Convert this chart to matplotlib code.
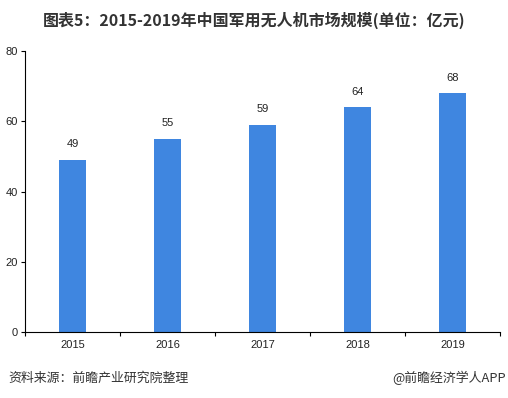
import matplotlib
matplotlib.use('Agg')
import matplotlib.pyplot as plt

plt.rcParams['font.family'] = ['Noto Sans CJK SC', 'DejaVu Sans']

years = ['2015', '2016', '2017', '2018', '2019']
values = [49, 55, 59, 64, 68]

fig = plt.figure(figsize=(5.08, 3.98), dpi=100)
ax = fig.add_axes([25 / 508, 1 - 332 / 398, 475 / 508, 281 / 398])

x = range(len(years))
ax.bar(x, values, width=0.285, color='#3f86e0')
for i, v in zip(x, values):
    ax.text(i, v + 3, str(v), ha='center', va='bottom', fontsize=8,
            family=['Liberation Sans', 'DejaVu Sans'], color='#222222')

ax.set_xlim(-0.5, len(years) - 0.5)
ax.set_ylim(0, 80)
ax.set_yticks([0, 20, 40, 60, 80])
ax.set_xticks(x)
ax.set_xticklabels(years)
ax.set_xticks([i - 0.5 for i in range(len(years) + 1)], minor=True)
ax.tick_params(axis='x', which='major', length=0, pad=6)
ax.tick_params(axis='x', which='minor', length=3, width=0.8)
ax.tick_params(axis='y', length=3, width=0.8, pad=2)
for lab in ax.get_xticklabels() + ax.get_yticklabels():
    lab.set_family(['Liberation Sans', 'DejaVu Sans'])
    lab.set_fontsize(8)
    lab.set_color('#222222')
ax.spines['top'].set_visible(False)
ax.spines['right'].set_visible(False)
ax.spines['left'].set_linewidth(0.8)
ax.spines['bottom'].set_linewidth(0.8)

fig.text(0.5, 1 - 20 / 398, '图表5：2015-2019年中国军用无人机市场规模(单位：亿元)',
         ha='center', va='center', fontsize=11.5, fontweight='bold', color='#333333')
fig.text(8 / 508, 1 - 378 / 398, '资料来源：前瞻产业研究院整理',
         ha='left', va='center', fontsize=9.3, color='#333333')
fig.text(506 / 508, 1 - 378 / 398, '@前瞻经济学人APP',
         ha='right', va='center', fontsize=9.3, color='#333333')

fig.savefig('out.png', dpi=100)
